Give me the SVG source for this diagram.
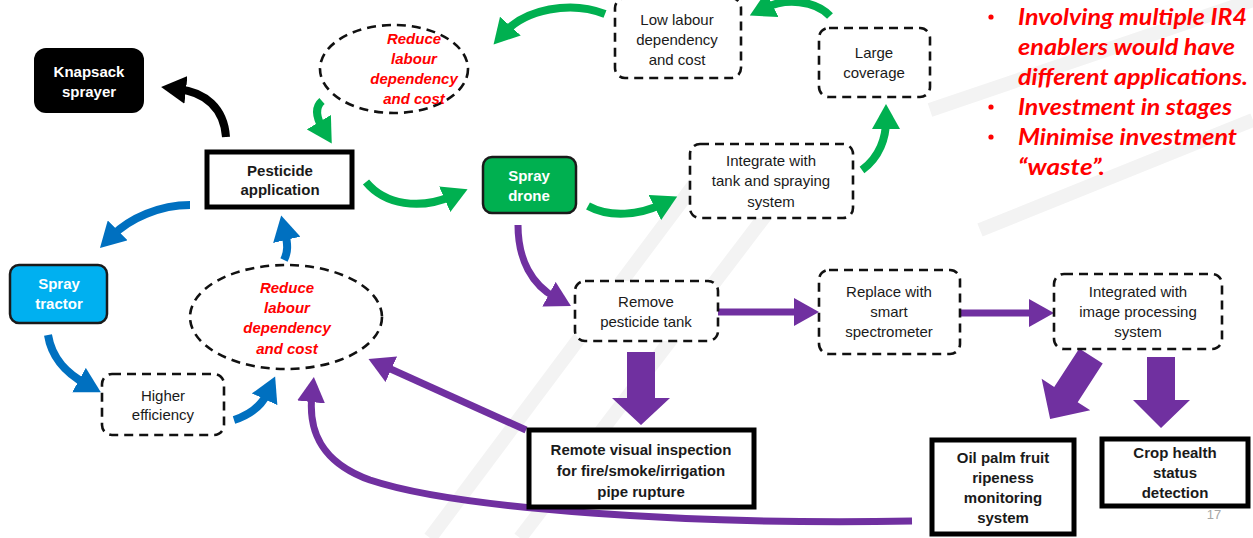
<svg xmlns="http://www.w3.org/2000/svg" width="1253" height="538" viewBox="0 0 1253 538">
  <style>
    .t { font-family: "Liberation Sans", Arial, sans-serif; font-size: 15px; fill: #1a1a1a; text-anchor: middle; }
    .b { font-weight: bold; }
    .w { fill: #ffffff; font-weight: bold; }
    .red { fill: #ff0000; font-weight: bold; font-style: italic; }
    .dash { fill: #ffffff; stroke: #111; stroke-width: 2.6; stroke-dasharray: 9 6; }
    .solid { fill: #ffffff; stroke: #000; stroke-width: 5; }
    .g { fill: none; stroke: #00b050; stroke-width: 8; marker-end: url(#hg); }
    .bl { fill: none; stroke: #0070c0; stroke-width: 8; marker-end: url(#hb); }
    .p { fill: none; stroke: #7030a0; stroke-width: 7; marker-end: url(#hp); }
    .k { fill: none; stroke: #000; stroke-width: 8; marker-end: url(#hk); }
    .blk { fill: #7030a0; }
    .note { font-family: Lato, "Liberation Sans", sans-serif; font-size: 23px; font-weight: bold; font-style: italic; fill: #ff0000; }
    .dot { fill: #ff0000; }
  </style>
  <defs>
    <marker id="hg" markerUnits="userSpaceOnUse" markerWidth="26" markerHeight="28" refX="8" refY="14" orient="auto"><path d="M0,0 L25,14 L0,28 z" fill="#00b050"/></marker>
    <marker id="hb" markerUnits="userSpaceOnUse" markerWidth="26" markerHeight="28" refX="8" refY="14" orient="auto"><path d="M0,0 L25,14 L0,28 z" fill="#0070c0"/></marker>
    <marker id="hp" markerUnits="userSpaceOnUse" markerWidth="26" markerHeight="28" refX="8" refY="14" orient="auto"><path d="M0,0 L25,14 L0,28 z" fill="#7030a0"/></marker>
    <marker id="hk" markerUnits="userSpaceOnUse" markerWidth="26" markerHeight="28" refX="8" refY="14" orient="auto"><path d="M0,0 L25,14 L0,28 z" fill="#000"/></marker>
  </defs>

  <rect width="1253" height="538" fill="#ffffff"/>

  <!-- faint background watermark -->
  <g id="watermark" fill="none" stroke="#f3f3f3" stroke-width="14">
    <path d="M430 538 L720 150"/>
    <path d="M520 538 L800 170"/>
    <path d="M930 110 L1253 0"/>
    <path d="M980 230 L1253 120"/>
  </g>

  <!-- connectors -->
  <g id="connectors">
    <path class="k" d="M226 137 C224 108 205 92 178 89"/>

    <path class="g" d="M322 101 C314 108 317 119 323 129"/>
    <path class="g" d="M366 182 C385 205 420 210 452 196"/>
    <path class="g" d="M588 206 C610 218 640 215 662 204"/>
    <path class="g" d="M862 170 C880 157 886 137 886 121"/>
    <path class="g" d="M830 16 C815 0 785 -2 765 8"/>
    <path class="g" d="M605 14 C570 0 525 10 505 32"/>

    <path class="bl" d="M190 205 C160 205 130 218 112 236"/>
    <path class="bl" d="M48 335 C52 360 68 374 86 384"/>
    <path class="bl" d="M234 420 C250 415 262 405 268 392"/>
    <path class="bl" d="M284 260 C288 252 288 245 285 232"/>

    <path class="p" d="M518 225 C518 260 532 285 556 298"/>
    <path class="p" d="M718 312 L802 312"/>
    <path class="p" d="M960 313 L1037 313"/>
    <path class="p" d="M526 430 L384 366"/>
    <path class="p" d="M912 521 C700 525 460 510 370 480 C320 462 308 430 312 394"/>

    <polygon class="blk" points="627,352 655,352 655,398 670,398 641,425 612,398 627,398"/>
    <polygon class="blk" points="1147,357 1175,357 1175,400 1190,400 1161,428 1133,400 1147,400"/>
    <polygon class="blk" transform="translate(1091,356) rotate(33)" points="-14,0 14,0 14,46 29,46 0,75 -29,46 -14,46"/>
  </g>

  <g id="knapsack">
    <rect x="34" y="48" width="110" height="65" rx="12" fill="#000"/>
    <text class="t w" x="89" y="77">Knapsack</text>
    <text class="t w" x="89" y="97">sprayer</text>
  </g>

  <g id="pesticide">
    <rect class="solid" x="207" y="152" width="145" height="55"/>
    <text class="t b" x="280" y="176">Pesticide</text>
    <text class="t b" x="280" y="195">application</text>
  </g>

  <g id="reduce-top">
    <ellipse class="dash" cx="394" cy="69" rx="74" ry="44"/>
    <text class="t red" x="414" y="44">Reduce</text>
    <text class="t red" x="414" y="64">labour</text>
    <text class="t red" x="414" y="84">dependency</text>
    <text class="t red" x="414" y="104">and cost</text>
  </g>

  <g id="low-labour">
    <rect class="dash" x="615" y="-2" width="126" height="80" rx="10"/>
    <text class="t" x="677" y="25">Low labour</text>
    <text class="t" x="677" y="45">dependency</text>
    <text class="t" x="677" y="65">and cost</text>
  </g>

  <g id="large-coverage">
    <rect class="dash" x="819" y="28" width="111" height="69" rx="10"/>
    <text class="t" x="874" y="58">Large</text>
    <text class="t" x="874" y="78">coverage</text>
  </g>

  <g id="spray-drone">
    <rect x="483" y="157" width="93" height="56" rx="9" fill="#00b050" stroke="#1a1a1a" stroke-width="2.5"/>
    <text class="t w" x="529" y="181">Spray</text>
    <text class="t w" x="529" y="201">drone</text>
  </g>

  <g id="integrate-tank">
    <rect class="dash" x="690" y="144" width="163" height="74" rx="10"/>
    <text class="t" x="771" y="166">Integrate with</text>
    <text class="t" x="771" y="186">tank and spraying</text>
    <text class="t" x="771" y="207">system</text>
  </g>

  <g id="notes">
    <circle class="dot" cx="991" cy="17" r="2.6"/>
    <text class="note" x="1018" y="25" textLength="229" lengthAdjust="spacingAndGlyphs">Involving multiple IR4</text>
    <text class="note" x="1018" y="55" textLength="217" lengthAdjust="spacingAndGlyphs">enablers would have</text>
    <text class="note" x="1018" y="85" textLength="230" lengthAdjust="spacingAndGlyphs">different applications.</text>
    <circle class="dot" cx="991" cy="107" r="2.6"/>
    <text class="note" x="1018" y="115" textLength="214" lengthAdjust="spacingAndGlyphs">Investment in stages</text>
    <circle class="dot" cx="991" cy="137" r="2.6"/>
    <text class="note" x="1018" y="145" textLength="219" lengthAdjust="spacingAndGlyphs">Minimise investment</text>
    <text class="note" x="1018" y="175" textLength="87" lengthAdjust="spacingAndGlyphs">“waste”.</text>
  </g>

  <g id="spray-tractor">
    <rect x="10" y="265" width="97" height="58" rx="9" fill="#00b0f0" stroke="#1a1a1a" stroke-width="2.5"/>
    <text class="t w" x="59" y="289">Spray</text>
    <text class="t w" x="59" y="309">tractor</text>
  </g>

  <g id="reduce-bottom">
    <ellipse class="dash" cx="286" cy="317" rx="96" ry="52"/>
    <text class="t red" x="287" y="293">Reduce</text>
    <text class="t red" x="287" y="313">labour</text>
    <text class="t red" x="287" y="333">dependency</text>
    <text class="t red" x="287" y="354">and cost</text>
  </g>

  <g id="higher-efficiency">
    <rect class="dash" x="102" y="374" width="122" height="61" rx="10"/>
    <text class="t" x="163" y="401">Higher</text>
    <text class="t" x="163" y="420">efficiency</text>
  </g>

  <g id="remove-tank">
    <rect class="dash" x="575" y="281" width="143" height="60" rx="10"/>
    <text class="t" x="646" y="307">Remove</text>
    <text class="t" x="646" y="327">pesticide tank</text>
  </g>

  <g id="spectrometer">
    <rect class="dash" x="819" y="270" width="141" height="84" rx="10"/>
    <text class="t" x="889" y="297">Replace with</text>
    <text class="t" x="889" y="317">smart</text>
    <text class="t" x="889" y="337">spectrometer</text>
  </g>

  <g id="image-processing">
    <rect class="dash" x="1054" y="274" width="168" height="75" rx="10"/>
    <text class="t" x="1138" y="297">Integrated with</text>
    <text class="t" x="1138" y="317">image processing</text>
    <text class="t" x="1138" y="337">system</text>
  </g>

  <g id="remote-inspection">
    <rect class="solid" x="529" y="430" width="225" height="77"/>
    <text class="t b" x="641" y="455">Remote visual inspection</text>
    <text class="t b" x="641" y="476">for fire/smoke/irrigation</text>
    <text class="t b" x="641" y="497">pipe rupture</text>
  </g>

  <g id="oil-palm">
    <rect class="solid" x="932" y="440" width="142" height="94"/>
    <text class="t b" x="1003" y="463">Oil palm fruit</text>
    <text class="t b" x="1003" y="483">ripeness</text>
    <text class="t b" x="1003" y="503">monitoring</text>
    <text class="t b" x="1003" y="523">system</text>
  </g>

  <g id="crop-health">
    <rect class="solid" x="1102" y="439" width="146" height="67"/>
    <text class="t b" x="1175" y="458">Crop health</text>
    <text class="t b" x="1175" y="478">status</text>
    <text class="t b" x="1175" y="498">detection</text>
  </g>

  <text x="1214" y="519" font-family="Liberation Sans, sans-serif" font-size="13" fill="#a6a6a6" text-anchor="middle">17</text>
</svg>
